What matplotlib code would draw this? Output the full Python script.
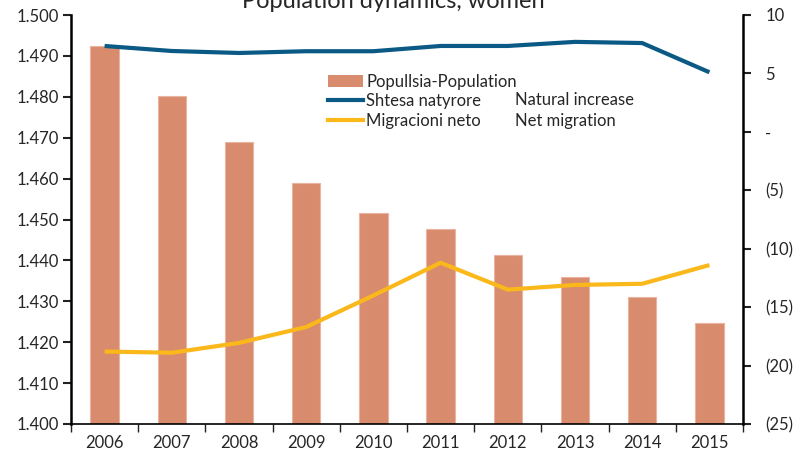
import matplotlib
matplotlib.use("Agg")
import matplotlib.pyplot as plt
from matplotlib.ticker import FixedLocator, FuncFormatter
from matplotlib.lines import Line2D
from matplotlib.patches import Patch
import numpy as np

years = ["2006", "2007", "2008", "2009", "2010", "2011", "2012", "2013", "2014", "2015"]
population = [1.4924, 1.4803, 1.4690, 1.4590, 1.4517, 1.4477, 1.4414, 1.4360, 1.4310, 1.4247]
natural_increase = [7.35, 6.92, 6.75, 6.9, 6.9, 7.35, 7.35, 7.7, 7.6, 5.1]
net_migration = [-18.8, -18.9, -18.06, -16.7, -14.0, -11.2, -13.5, -13.1, -13.0, -11.4]

left_ticks = [1.400, 1.410, 1.420, 1.430, 1.440, 1.450, 1.460, 1.470, 1.480, 1.490, 1.500]
right_ticks = [-25, -20, -15, -10, -5, 0, 5, 10]

plt.rcParams['font.family'] = ['Lato', 'DejaVu Sans']
FS = 12
txt_color = '#262626'

fig = plt.figure(figsize=(8.05, 4.59), dpi=100)
ax = fig.add_axes([71/805, 1-424/459, 672/805, 409/459])
x = np.arange(len(years))
ax.bar(x, population, width=0.42, color='#D88B6D', edgecolor='#E9B4A0', linewidth=0.8, zorder=1)
ax.set_ylim(1.400, 1.500)
ax.set_xlim(-0.5, len(years) - 0.5)
ax.yaxis.set_major_locator(FixedLocator(left_ticks))
ax.yaxis.set_major_formatter(FuncFormatter(lambda v, p: f"{v:.3f}"))
ax.set_xticks(x)
ax.set_xticklabels(years)
ax.set_xticks(np.arange(-0.5, len(years)), minor=True)
ax.tick_params(axis='x', which='major', length=0, pad=8, labelsize=FS, colors=txt_color)
ax.tick_params(axis='x', which='minor', length=6, width=1, direction='out', color='#222222')
ax.tick_params(axis='y', length=6, width=1.5, direction='out', labelsize=FS, colors=txt_color, pad=3)
ax.tick_params(axis='y', color='#222222')
for s in ['top', 'right']:
    ax.spines[s].set_visible(False)
ax.spines['left'].set_linewidth(1.8)
ax.spines['bottom'].set_linewidth(1.2)

ax2 = ax.twinx()
ax2.plot(x, natural_increase, color='#0B5A85', lw=3.0, zorder=3, solid_capstyle='butt')
ax2.plot(x, net_migration, color='#FBB81A', lw=3.0, zorder=3, solid_capstyle='butt')
ax2.set_ylim(-25, 10)
ax2.yaxis.set_major_locator(FixedLocator(right_ticks))

def acct(v, p):
    v = int(round(v))
    if v == 0:
        return "-"
    if v < 0:
        return f"({-v})"
    return f"{v}"

ax2.yaxis.set_major_formatter(FuncFormatter(acct))
ax2.tick_params(axis='y', length=6, width=1.5, direction='out', labelsize=FS, colors=txt_color, pad=10)
ax2.tick_params(axis='y', color='#222222')
for s in ['top', 'left', 'bottom']:
    ax2.spines[s].set_visible(False)
ax2.spines['right'].set_linewidth(1.8)

handles = [Patch(facecolor='#D88B6D', edgecolor='none'),
           Line2D([], [], color='#0B5A85', lw=3.0),
           Line2D([], [], color='#FBB81A', lw=3.0)]
labels = ["Popullsia-Population", "Shtesa natyrore", "Migracioni neto"]
leg = ax2.legend(handles, labels, loc='upper left', bbox_to_anchor=(316/805, 1-62/459),
                 bbox_transform=fig.transFigure, frameon=False, fontsize=FS,
                 handlelength=2.1, handletextpad=0.2, labelspacing=0.22, borderpad=0.2)
for t in leg.get_texts():
    t.set_color(txt_color)

fig.text(515/805, 1-100/459, "Natural increase", fontsize=FS, color=txt_color, va='center', ha='left')
fig.text(515/805, 1-121/459, "Net migration", fontsize=FS, color=txt_color, va='center', ha='left')

fig.text(393/805, 1-8/459, "Population dynamics, women", fontsize=17, color=txt_color,
         ha='center', va='baseline')

fig.savefig("out.png", dpi=100)
